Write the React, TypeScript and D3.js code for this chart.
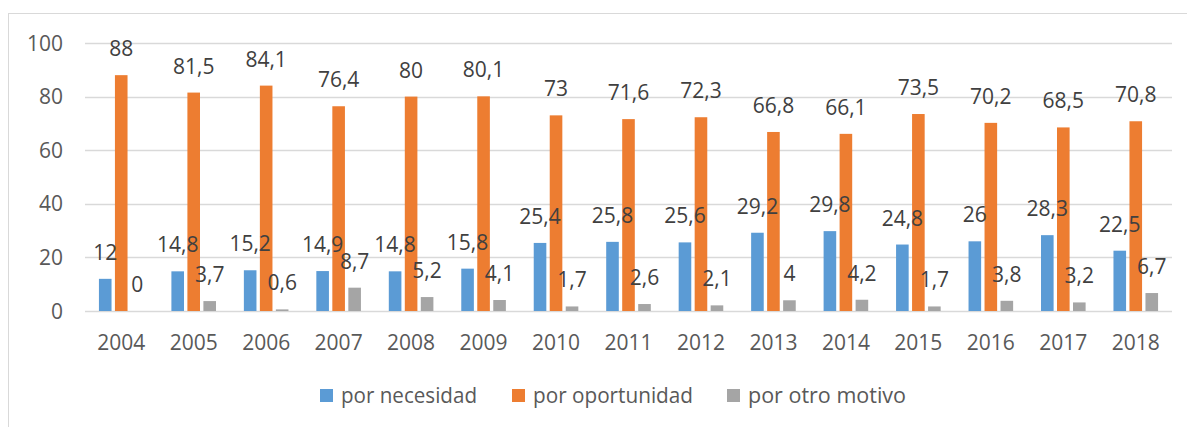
import React from "react";
import * as d3 from "d3";

const years = ["2004","2005","2006","2007","2008","2009","2010","2011","2012","2013","2014","2015","2016","2017","2018"];
const necesidad = [12, 14.8, 15.2, 14.9, 14.8, 15.8, 25.4, 25.8, 25.6, 29.2, 29.8, 24.8, 26, 28.3, 22.5];
const oportunidad = [88, 81.5, 84.1, 76.4, 80, 80.1, 73, 71.6, 72.3, 66.8, 66.1, 73.5, 70.2, 68.5, 70.8];
const otro = [0, 3.7, 0.6, 8.7, 5.2, 4.1, 1.7, 2.6, 2.1, 4, 4.2, 1.7, 3.8, 3.2, 6.7];
const yTicks = [0, 20, 40, 60, 80, 100];
const seriesNames = ["por necesidad", "por oportunidad", "por otro motivo"];
const colors = ["#5B9BD5", "#ED7D31", "#A5A5A5"];

const W = 1187, H = 427;
const FONT = "'Open Sans', 'Liberation Sans', sans-serif";

export default function App() {
  const x = d3.scaleBand<string>().domain(years).range([85, 1172]).padding(0);
  const y = d3.scaleLinear().domain([0, 100]).range([311, 43]);
  const series = [necesidad, oportunidad, otro];
  const barW = 12.6;
  const step = 16;
  const fmt = (v: number) => String(v).replace(".", ",");
  const legendX = [320, 512, 727];
  const legendW = [136, 160, 158];
  const cxOf = (yr: string) => (x(yr) as number) + x.bandwidth() / 2;

  return (
    <svg width={W} height={H} style={{ position: "absolute", left: 0, top: 0, background: "#fff" }} fontFamily={FONT}>
      <rect x={8.5} y={13.5} width={1300} height={600} fill="#fff" stroke="#D9D9D9" strokeWidth={1} />
      {yTicks.map((t) => (
        <g key={t}>
          <line x1={85} x2={1172} y1={Math.round(y(t)) + 0.5} y2={Math.round(y(t)) + 0.5} stroke="#D9D9D9" strokeWidth={1.5} />
          <text x={63} y={y(t) + 7.5} textAnchor="end" fontSize={21} fill="#595959">{t}</text>
        </g>
      ))}
      {years.map((yr, i) => (
        <g key={"b" + yr}>
          {series.map((s, j) => {
            const bx = cxOf(yr) + (j - 1) * step - barW / 2;
            const v = s[i];
            return <rect key={j} x={bx} y={y(v)} width={barW} height={y(0) - y(v)} fill={colors[j]} />;
          })}
          <text x={cxOf(yr)} y={350} textAnchor="middle" fontSize={21} fill="#595959">{yr}</text>
        </g>
      ))}
      {years.map((yr, i) => (
        <g key={"l" + yr}>
          {series.map((s, j) => {
            const v = s[i];
            return (
              <text key={j} x={cxOf(yr) + (j - 1) * step} y={y(v) - 19} textAnchor="middle" fontSize={21} fill="#404040">{fmt(v)}</text>
            );
          })}
        </g>
      ))}
      {seriesNames.map((n, j) => (
        <g key={n}>
          <rect x={legendX[j]} y={389} width={13} height={13} fill={colors[j]} />
          <text x={legendX[j] + 21} y={403} fontSize={21} fill="#595959" textLength={legendW[j]} lengthAdjust="spacingAndGlyphs">{n}</text>
        </g>
      ))}
    </svg>
  );
}
